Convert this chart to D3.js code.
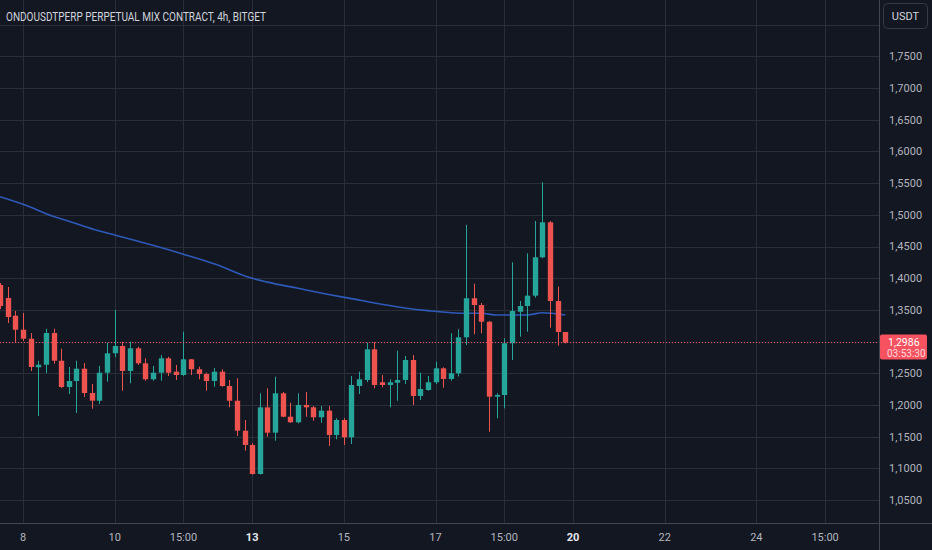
<!DOCTYPE html>
<html>
<head>
<meta charset="utf-8">
<script src="https://cdn.jsdelivr.net/npm/d3@7"></script>
<style>
  html, body { margin: 0; padding: 0; background: #131722; }
  svg { display: block; font-family: Roboto, "Noto Sans", sans-serif; }
</style>
</head>
<body>
<svg id="chart" width="932" height="550"></svg>
<script>
// 4h candles, index 0 = day 8 03:00
const firstIndex = -3
const opens  = [1.3894, 1.3689, 1.3410, 1.3189, 1.3047, 1.2596, 1.2637, 1.3137, 1.2700, 1.2285,
                1.2380, 1.2574, 1.2191, 1.2069, 1.2511, 1.2817, 1.2932, 1.2538, 1.2896, 1.2659,
                1.2407, 1.2511, 1.2738, 1.2527, 1.2475, 1.2722, 1.2565, 1.2491, 1.2380, 1.2527,
                1.2301, 1.2069, 1.1596, 1.1371, 1.0913, 1.1965, 1.1565, 1.2186, 1.1817, 1.1729,
                1.2002, 1.1965, 1.1808, 1.1912, 1.1528, 1.1765, 1.1492, 1.2301, 1.2396, 1.2880,
                1.2360, 1.2317, 1.2353, 1.2396, 1.2711, 1.2144, 1.2238, 1.2360, 1.2580, 1.2412,
                1.2502, 1.3069, 1.3685, 1.3579, 1.3315, 1.2133, 1.2159, 1.2975, 1.3473, 1.3563,
                1.3726, 1.4331, 1.4883, 1.3642, 1.3153]
const highs  = [1.3926, 1.3863, 1.3484, 1.3453, 1.3137, 1.2700, 1.3205, 1.3205, 1.2890, 1.2601,
                1.2700, 1.2664, 1.2333, 1.2617, 1.2984, 1.3500, 1.3000, 1.3000, 1.2921, 1.2738,
                1.2617, 1.2790, 1.2763, 1.2633, 1.3158, 1.2727, 1.2606, 1.2511, 1.2585, 1.2565,
                1.2396, 1.2423, 1.1765, 1.1398, 1.2186, 1.2265, 1.2448, 1.2207, 1.2038, 1.2186,
                1.2207, 1.1986, 1.1986, 1.1986, 1.1792, 1.1792, 1.2459, 1.2527, 1.2984, 1.2995,
                1.2475, 1.2407, 1.2858, 1.2774, 1.2790, 1.2511, 1.2459, 1.2685, 1.2596, 1.3132,
                1.3196, 1.4841, 1.3915, 1.3610, 1.3327, 1.2186, 1.3054, 1.4252, 1.3642, 1.4394,
                1.4904, 1.5514, 1.4904, 1.3868, 1.3153]
const lows   = [1.3516, 1.3295, 1.2980, 1.3011, 1.2538, 1.1828, 1.2506, 1.2653, 1.2270, 1.2175,
                1.1875, 1.2128, 1.1943, 1.2017, 1.2369, 1.2754, 1.2227, 1.2344, 1.2633, 1.2385,
                1.2385, 1.2385, 1.2459, 1.2396, 1.2459, 1.2475, 1.2407, 1.2227, 1.2290, 1.2290,
                1.1965, 1.1513, 1.1281, 1.0905, 1.0905, 1.1502, 1.1439, 1.1808, 1.1722, 1.1713,
                1.1817, 1.1754, 1.1722, 1.1355, 1.1461, 1.1371, 1.1386, 1.2175, 1.2364, 1.2265,
                1.2281, 1.1965, 1.2069, 1.2333, 1.2002, 1.2080, 1.2227, 1.2333, 1.2274, 1.2385,
                1.2451, 1.2948, 1.3117, 1.3132, 1.1580, 1.1792, 1.1950, 1.2711, 1.3079, 1.3158,
                1.3694, 1.4316, 1.3221, 1.2937, 1.2972]
const closes = [1.3563, 1.3390, 1.3189, 1.3047, 1.2601, 1.2637, 1.3137, 1.2700, 1.2285, 1.2380,
                1.2574, 1.2191, 1.2069, 1.2511, 1.2817, 1.2932, 1.2538, 1.2896, 1.2659, 1.2407,
                1.2511, 1.2738, 1.2511, 1.2475, 1.2722, 1.2565, 1.2491, 1.2380, 1.2527, 1.2301,
                1.2069, 1.1596, 1.1371, 1.0913, 1.1965, 1.1565, 1.2186, 1.1817, 1.1729, 1.2002,
                1.1965, 1.1808, 1.1912, 1.1528, 1.1765, 1.1492, 1.2317, 1.2407, 1.2880, 1.2317,
                1.2317, 1.2360, 1.2396, 1.2711, 1.2144, 1.2254, 1.2360, 1.2580, 1.2412, 1.2502,
                1.3069, 1.3685, 1.3579, 1.3315, 1.2133, 1.2159, 1.2975, 1.3484, 1.3563, 1.3726,
                1.4331, 1.4883, 1.3642, 1.3153, 1.2986]

// moving average, read at a few candle indexes
const maIndex  = [-3, 0, 4, 6, 10, 12, 17, 21, 25, 30, 32, 36, 40, 43, 46, 50, 53, 58, 60, 62, 66, 68, 71]
const maValues = [1.5287, 1.5167, 1.4975, 1.4900, 1.4746, 1.4683, 1.4520, 1.4380, 1.4230, 1.4000,
                  1.3940, 1.3842, 1.3745, 1.3680, 1.3610, 1.3532, 1.3490, 1.3448, 1.3448, 1.3421,
                  1.3421, 1.3457, 1.3421]

const timeTickIndex  = [0, 12, 21, 30, 42, 54, 63, 72, 84, 96, 105]
const timeTickLabels = ['8', '10', '15:00', '13', '15', '17', '15:00', '20', '22', '24', '15:00']
const timeTickStrong = ['13', '20']

const priceTicks = [1.05, 1.10, 1.15, 1.20, 1.25, 1.30, 1.35, 1.40, 1.45, 1.50, 1.55, 1.60, 1.65, 1.70, 1.75, 1.80]
const priceTickHidden = [1.30, 1.80]

const lastPrice = 1.2986
const countdown = '03:53:30'
const title = 'ONDOUSDTPERP PERPETUAL MIX CONTRACT, 4h, BITGET'

const width = 932
const height = 550
const plotRight = 879.5
const plotBottom = 523

const up = '#26a69a'
const down = '#ef5350'

const svg = d3.select('#chart')

const x = d3.scaleLinear().domain([0, 72]).range([23, 573])
const y = d3.scaleLinear().domain([1.0, 1.8]).range([531.9, 24.7])
const step = x(1) - x(0)
const bodyW = step * 0.7

svg.append('rect')
    .attr('width', width).attr('height', height)
    .attr('fill', '#131722')

const plot = svg.append('g')

// grid
plot.append('g').selectAll('line')
    .data(priceTicks)
    .join('line')
    .attr('x1', 0).attr('x2', plotRight)
    .attr('y1', d => Math.round(y(d)) + 0.5)
    .attr('y2', d => Math.round(y(d)) + 0.5)
    .attr('stroke', '#2a2e39')

plot.append('g').selectAll('line')
    .data(timeTickIndex)
    .join('line')
    .attr('x1', d => Math.round(x(d)) + 0.5)
    .attr('x2', d => Math.round(x(d)) + 0.5)
    .attr('y1', 0).attr('y2', plotBottom)
    .attr('stroke', '#2a2e39')

// moving average
const maLine = d3.line()
    .x((d, i) => x(maIndex[i]))
    .y(d => y(d))
    .curve(d3.curveMonotoneX)

plot.append('path')
    .datum(maValues)
    .attr('d', maLine)
    .attr('fill', 'none')
    .attr('stroke', '#2e59b8')
    .attr('stroke-width', 1.6)

// candles
const candles = opens.map((o, k) => ({
    i: firstIndex + k, o: o, h: highs[k], l: lows[k], c: closes[k]
}))

const cg = plot.append('g').selectAll('g')
    .data(candles)
    .join('g')
    .attr('fill', d => d.c >= d.o ? up : down)
    .attr('stroke', d => d.c >= d.o ? up : down)

cg.append('line')
    .attr('x1', d => Math.round(x(d.i)) + 0.5)
    .attr('x2', d => Math.round(x(d.i)) + 0.5)
    .attr('y1', d => y(d.h))
    .attr('y2', d => y(d.l))
    .attr('stroke-width', 1)

cg.append('rect')
    .attr('x', d => Math.round(x(d.i)) + 0.5 - bodyW / 2)
    .attr('y', d => y(Math.max(d.o, d.c)))
    .attr('width', bodyW)
    .attr('height', d => Math.max(1, Math.abs(y(d.o) - y(d.c))))
    .attr('stroke', 'none')

// last price dotted line
plot.append('line')
    .attr('x1', 0).attr('x2', plotRight)
    .attr('y1', y(lastPrice)).attr('y2', y(lastPrice))
    .attr('stroke', '#f7525f')
    .attr('stroke-dasharray', '1,2')

// axis borders
svg.append('line')
    .attr('x1', 0).attr('x2', width)
    .attr('y1', plotBottom + 0.5).attr('y2', plotBottom + 0.5)
    .attr('stroke', '#434651')
svg.append('line')
    .attr('x1', plotRight).attr('x2', plotRight)
    .attr('y1', 0).attr('y2', height)
    .attr('stroke', '#434651')

// price labels
const fmt = v => d3.format('.4f')(v).replace('.', ',')
svg.append('g').selectAll('text')
    .data(priceTicks.filter(d => !priceTickHidden.includes(d)))
    .join('text')
    .attr('x', 889)
    .attr('y', d => y(d))
    .attr('dy', '0.35em')
    .attr('fill', '#b2b5be')
    .style('font-size', '11px')
    .text(d => fmt(d))

// time labels
svg.append('g').selectAll('text')
    .data(timeTickIndex)
    .join('text')
    .attr('x', d => x(d))
    .attr('y', 537)
    .attr('dy', '0.35em')
    .attr('text-anchor', 'middle')
    .attr('fill', (d, k) => timeTickStrong.includes(timeTickLabels[k]) ? '#e6e8ee' : '#b2b5be')
    .style('font-size', '11px')
    .style('font-weight', (d, k) => timeTickStrong.includes(timeTickLabels[k]) ? 'bold' : 'normal')
    .text((d, k) => timeTickLabels[k])

// last price tag
const ty = y(lastPrice)
const tag = svg.append('g')
tag.append('rect')
    .attr('x', 880).attr('y', ty - 8)
    .attr('width', 47).attr('height', 25)
    .attr('rx', 2)
    .attr('fill', '#f7525f')
tag.append('text')
    .attr('x', 888).attr('y', ty - 0.5)
    .attr('dy', '0.35em')
    .attr('fill', '#ffffff')
    .style('font-size', '10.5px')
    .text(fmt(lastPrice))
tag.append('text')
    .attr('x', 887).attr('y', ty + 11)
    .attr('dy', '0.35em')
    .attr('fill', '#ffd9dc')
    .style('font-size', '10px')
    .text(countdown)

// title
svg.append('text')
    .attr('x', 6).attr('y', 20.5)
    .attr('fill', '#d1d4dc')
    .attr('textLength', 260)
    .attr('lengthAdjust', 'spacingAndGlyphs')
    .style('font-size', '12px')
    .text(title)

// currency button
svg.append('rect')
    .attr('x', 883.5).attr('y', 3.5)
    .attr('width', 44).attr('height', 25)
    .attr('rx', 4)
    .attr('fill', '#131722')
    .attr('stroke', '#363a45')
svg.append('text')
    .attr('x', 905.5).attr('y', 16)
    .attr('dy', '0.35em')
    .attr('text-anchor', 'middle')
    .attr('fill', '#d1d4dc')
    .style('font-size', '11px')
    .text('USDT')
</script>
</body>
</html>
